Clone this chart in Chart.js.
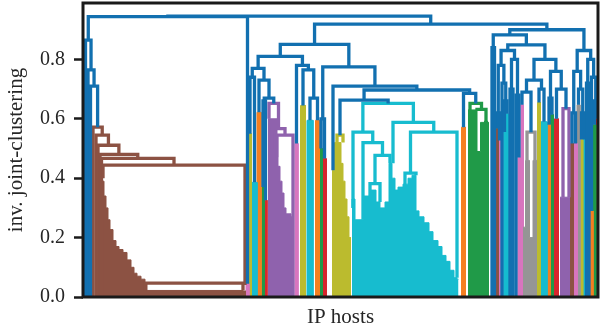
<!DOCTYPE html>
<html>
<head>
<meta charset="utf-8">
<script src="https://cdn.jsdelivr.net/npm/chart.js@4.4.1/dist/chart.umd.min.js"></script>
<style>
  html, body { margin: 0; padding: 0; background: #fff; }
</style>
</head>
<body>
<canvas id="dendrogram" width="600" height="330"></canvas>
<script>
// cluster colours
const palette = {
  B: '#1270b0', Br: '#8c5243', P: '#8f62ad', C: '#17bccf', O: '#bbbb2e',
  Or: '#f57f20', G: '#209a48', R: '#d8262d', Pk: '#d876bf', Gy: '#959595'
};

const yTicks = [0, 0.2, 0.4, 0.6, 0.8];

// leaves / collapsed clusters: name, position on host axis, height where the stem starts, colour, cluster span
const leaves = [
  ['a0', 2.5, 0, 'B', 0], ['a1', 5, 0, 'B', 0], ['a2', 7.5, 0, 'B', 0],
  ['w0', 10, 0, 'Br', 0], ['w1', 13, 0, 'Br', 0], ['w2', 15, 0, 'Br', 0],
  ['w3', 17, 0, 'Br', 0], ['w4', 18.5, 0, 'Br', 0], ['w5', 20, 0.4, 'Br', 0],
  ['w6', 162, 0.04, 'Br', 0], ['t0', 62, 0.022, 'Br', 0], ['t1', 160, 0.022, 'Br', 0],
  ['pk0', 164.5, 0.045, 'Pk', 3],
  ['o1', 167, 0.55, 'O', 3], ['c1', 171.5, 0.386, 'C', 5], ['or1', 176, 0.622, 'Or', 4],
  ['g1', 180, 0.37, 'G', 2.5], ['r1', 182.5, 0.326, 'R', 3],
  ['p0', 186, 0.6, 'P', 0], ['p1', 189, 0.5, 'P', 0], ['p2', 194, 0.47, 'P', 0], ['p3', 210, 0, 'P', 0],
  ['pk1', 213.5, 0.517, 'Pk', 3], ['o2', 220, 0.645, 'O', 5], ['c2', 227, 0.595, 'C', 6],
  ['or2', 234.5, 0.595, 'Or', 4], ['g2', 238, 0.5, 'G', 3], ['r2', 241.5, 0.466, 'R', 3.5],
  ['o3a', 250, 0.427, 'O', 0], ['o3b', 254, 0.52, 'O', 0], ['o3c', 260, 0.52, 'O', 0],
  ['cl0', 270, 0.3, 'C', 0], ['cl1', 280, 0.26, 'C', 0], ['cl2a', 287, 0.33, 'C', 0],
  ['cl2b', 297, 0.32, 'C', 0], ['cl4', 307, 0.45, 'C', 0], ['cr0', 310, 0.45, 'C', 0],
  ['cr1', 322, 0.37, 'C', 0], ['cr2', 333, 0.41, 'C', 0], ['cr3', 374, 0.065, 'C', 0],
  ['or3', 380.5, 0.572, 'Or', 4],
  ['g3a', 387, 0.63, 'G', 0], ['g3b', 394, 0.63, 'G', 0], ['g3c', 401, 0.588, 'G', 0], ['g3d', 405, 0.588, 'G', 0],
  ['ra', 409, 0, 'B', 0], ['ra2', 411.5, 0, 'B', 0], ['rb', 414, 0.567, 'Br', 2.5],
  ['rc', 416.5, 0.527, 'Pk', 2.5], ['rd', 419, 0, 'B', 0], ['re', 421.5, 0.556, 'C', 2.5],
  ['rf', 424, 0.617, 'C', 2.5], ['rg', 427, 0, 'B', 0], ['rg2', 430, 0, 'B', 0],
  ['rh', 433, 0, 'B', 0], ['ri', 436, 0.47, 'Pk', 2.5], ['rj', 439, 0.647, 'Pk', 2.5],
  ['k0', 444, 0.46, 'Gy', 0], ['k1', 452, 0.46, 'Gy', 0],
  ['rl', 456, 0.655, 'O', 3], ['rm', 461, 0.59, 'C', 6], ['rn', 466, 0.58, 'Or', 3],
  ['ro', 469, 0.614, 'G', 3], ['rp', 473.5, 0.6, 'R', 4],
  ['q0', 480, 0.336, 'P', 0], ['q1', 486, 0.336, 'P', 0],
  ['rr', 489, 0.517, 'Br', 3], ['rs', 492.5, 0.517, 'Pk', 3.5], ['rt', 495.5, 0.647, 'Gy', 3],
  ['ru', 498.5, 0.53, 'O', 2.5], ['rv', 501, 0.53, 'C', 2.5], ['rw', 503.5, 0, 'B', 0],
  ['rw2', 506, 0, 'B', 0], ['rx', 508.5, 0.29, 'Or', 3], ['ry', 511.5, 0.58, 'G', 3],
  ['rz', 514, 0.6, 'R', 2.5]
];

// merges, bottom-up: name, left child, right child, inv. joint-clustering, colour
const merges = [
  ['W6', 'w5', 'w6', 0.444, 'Br'], ['W5', 'w4', 'W6', 0.467, 'Br'], ['W4', 'w3', 'W5', 0.48, 'Br'],
  ['W3', 'w2', 'W4', 0.511, 'Br'], ['W2', 'w1', 'W3', 0.545, 'Br'], ['W1', 'w0', 'W2', 0.572, 'Br'],
  ['T0', 't0', 't1', 0.047, 'Br'],
  ['A3', 'a2', 'W1', 0.71, 'B'], ['A2', 'a1', 'A3', 0.765, 'B'], ['A1', 'a0', 'A2', 0.865, 'B'],
  ['A0', 'A1', 'pk0', 0.944, 'B'],
  ['K1', 'o1', 'c1', 0.74, 'B'], ['K3', 'g1', 'r1', 0.66, 'B'],
  ['Pa', 'p2', 'p3', 0.545, 'P'], ['Pb', 'p1', 'Pa', 0.567, 'P'], ['Pc', 'p0', 'Pb', 0.652, 'P'],
  ['K4', 'K3', 'Pc', 0.67, 'B'], ['K5', 'or1', 'K4', 0.73, 'B'], ['K2', 'K1', 'K5', 0.77, 'B'],
  ['M1', 'c2', 'or2', 0.67, 'B'], ['M2', 'o2', 'M1', 0.765, 'B'], ['M3', 'pk1', 'M2', 0.78, 'B'],
  ['S1', 'K2', 'M3', 0.81, 'B'], ['M4', 'g2', 'r2', 0.6, 'B'],
  ['O3', 'o3b', 'o3c', 0.545, 'O'],
  ['Cd', 'cl2a', 'cl2b', 0.382, 'C'], ['Cc', 'Cd', 'cl4', 0.477, 'C'], ['Cb', 'cl1', 'Cc', 0.52, 'C'],
  ['Ca', 'cl0', 'Cb', 0.555, 'C'], ['Cg', 'cr1', 'cr2', 0.417, 'C'], ['Cf', 'Cg', 'cr3', 0.555, 'C'],
  ['Ce', 'cr0', 'Cf', 0.588, 'C'], ['Ct', 'Ca', 'Ce', 0.652, 'C'],
  ['Ga', 'g3c', 'g3d', 0.588, 'G'], ['Gb', 'g3b', 'Ga', 0.632, 'G'], ['Gc', 'g3a', 'Gb', 0.652, 'G'],
  ['T1', 'O3', 'Ct', 0.663, 'B'], ['T3', 'or3', 'Gc', 0.686, 'B'], ['T2', 'T1', 'T3', 0.697, 'B'],
  ['T4', 'o3a', 'T2', 0.71, 'B'], ['T5', 'M4', 'T4', 0.775, 'B'], ['S2', 'S1', 'T5', 0.851, 'B'],
  ['Ra', 'ra', 'ra2', 0.84, 'B'], ['Rb', 'rb', 'rc', 0.62, 'B'], ['Rc', 're', 'rf', 0.66, 'B'],
  ['Rd', 'rd', 'Rc', 0.72, 'B'], ['Re', 'Rb', 'Rd', 0.78, 'B'], ['Rf', 'rg', 'rg2', 0.70, 'B'],
  ['Rg', 'rh', 'ri', 0.68, 'B'], ['Rh', 'Rf', 'Rg', 0.80, 'B'], ['Ri', 'Re', 'Rh', 0.83, 'B'],
  ['Ka', 'k0', 'k1', 0.555, 'Gy'], ['Rj', 'rj', 'Ka', 0.69, 'B'], ['Rk', 'rl', 'rm', 0.70, 'B'],
  ['Rl', 'Rj', 'Rk', 0.73, 'B'], ['Qa', 'q0', 'q1', 0.634, 'P'], ['Rm', 'rn', 'ro', 0.67, 'B'],
  ['Rn', 'rp', 'Qa', 0.70, 'B'], ['Ro', 'Rm', 'Rn', 0.76, 'B'], ['Rp', 'Rl', 'Ro', 0.80, 'B'],
  ['Rq', 'rr', 'rs', 0.62, 'B'], ['Rr', 'ru', 'rv', 0.62, 'B'], ['Rs', 'rt', 'Rr', 0.70, 'B'],
  ['Rt', 'Rq', 'Rs', 0.76, 'B'], ['Ru', 'rw', 'rw2', 0.72, 'B'], ['Rv', 'ry', 'rz', 0.66, 'B'],
  ['Rw', 'rx', 'Rv', 0.74, 'B'], ['Rx', 'Ru', 'Rw', 0.80, 'B'], ['Ry', 'Rt', 'Rx', 0.83, 'B'],
  ['Rz', 'Ri', 'Rp', 0.849, 'B'], ['RA', 'Ra', 'Rz', 0.883, 'B'], ['RB', 'RA', 'Ry', 0.90, 'B'],
  ['S3', 'S2', 'RB', 0.919, 'B'], ['S4', 'A0', 'S3', 0.946, 'B']
];

// dense low-level parts of the big clusters (outline: host positions, heights)
const masses = [
  ['Br', [19, 21, 23, 25, 27, 30, 33, 36, 40, 44, 48, 51, 54, 58, 62, 64, 66, 160, 163],
         [0.44, 0.39, 0.34, 0.3, 0.26, 0.227, 0.19, 0.17, 0.16, 0.15, 0.125, 0.1, 0.08, 0.07, 0.06, 0.047, 0.022, 0.022, 0.02]],
  ['P', [185, 194, 195, 197, 199, 201, 203, 205, 208, 210],
        [0.6, 0.6, 0.47, 0.44, 0.39, 0.35, 0.3, 0.28, 0.28, 0.27]],
  ['O', [249, 251.5, 252, 258, 260, 262, 264, 266, 268],
        [0.427, 0.427, 0.52, 0.52, 0.45, 0.39, 0.33, 0.27, 0.2]],
  ['C', [269, 272, 277, 281, 287, 293, 297, 302, 306, 309, 312, 315, 320, 325, 329, 333, 336, 341, 346, 350, 355, 359, 363, 367, 371, 374, 375.5],
        [0.3, 0.33, 0.26, 0.26, 0.34, 0.36, 0.32, 0.3, 0.32, 0.45, 0.4, 0.36, 0.37, 0.38, 0.4, 0.41, 0.29, 0.27, 0.25, 0.22, 0.19, 0.17, 0.14, 0.12, 0.09, 0.065, 0.06]],
  ['G', [385, 394, 395, 397.5, 398, 406], [0.63, 0.63, 0.49, 0.49, 0.588, 0.588]],
  ['Gy', [440, 442.5, 443, 446.5, 447, 450, 450.5, 454], [0.235, 0.235, 0.46, 0.46, 0.2, 0.2, 0.46, 0.46]],
  ['P', [477, 487], [0.336, 0.336]]
];

// positions of every node (merge sits over the middle of its two children)
const nodes = {};
leaves.forEach(([name, x, top]) => { nodes[name] = { x: x, h: top }; });
merges.forEach(([name, a, b, h]) => { nodes[name] = { x: (nodes[a].x + nodes[b].x) / 2, h: h }; });

const datasets = [];
masses.forEach(([c, xs, hs]) => {
  datasets.push({
    data: xs.map((x, i) => ({ x: x, y: hs[i] })),
    stepped: 'after',
    fill: 'origin', backgroundColor: palette[c], borderColor: palette[c], borderWidth: 1, order: 3
  });
});
leaves.filter(l => l[4] > 0).forEach(([name, x, top, c, span]) => {
  datasets.push({
    data: [{ x: x - span / 2, y: 0 }, { x: x - span / 2, y: top }, { x: x + span / 2, y: top }, { x: x + span / 2, y: 0 }],
    fill: 'origin', backgroundColor: palette[c], borderColor: palette[c], borderWidth: 1, order: 3
  });
});
merges.forEach(([name, a, b, h, c]) => {
  const l = nodes[a], r = nodes[b];
  datasets.push({
    data: [{ x: l.x, y: l.h }, { x: l.x, y: h }, { x: r.x, y: h }, { x: r.x, y: r.h }],
    fill: false, borderColor: palette[c], borderWidth: 3.3, order: c === 'B' ? 1 : 2
  });
});

const frame = {
  id: 'frame',
  afterDatasetsDraw(chart) {
    const { ctx, chartArea: a } = chart;
    ctx.save();
    ctx.strokeStyle = '#1a1a1a';
    ctx.lineWidth = 3;
    ctx.strokeRect(a.left, a.top, a.right - a.left, a.bottom - a.top);
    ctx.restore();
  }
};

const serif = 'Liberation Serif';

new Chart('dendrogram', {
  type: 'line',
  data: { datasets: datasets },
  options: {
    responsive: false,
    animation: false,
    devicePixelRatio: 1,
    layout: { padding: { top: 3, right: 2, left: 0, bottom: 0 } },
    elements: {
      point: { radius: 0, hoverRadius: 0 },
      line: { tension: 0, borderJoinStyle: 'miter', borderCapStyle: 'butt' }
    },
    plugins: { legend: { display: false }, tooltip: { enabled: false } },
    scales: {
      x: {
        type: 'linear', min: 0, max: 515,
        ticks: { display: false },
        grid: { display: false },
        border: { display: false },
        title: { display: true, text: 'IP hosts', color: '#262626', font: { family: serif, size: 21 }, padding: { top: 0, bottom: 0 } },
        afterFit: s => { s.height = 33; s.paddingLeft = 0; s.paddingRight = 0; }
      },
      y: {
        min: 0, max: 0.99,
        afterBuildTicks: s => { s.ticks = yTicks.map(v => ({ value: v })); },
        ticks: { callback: v => v.toFixed(1), color: '#262626', font: { family: serif, size: 20 }, padding: 9 },
        grid: { drawOnChartArea: false, drawTicks: true, tickLength: 9, tickWidth: 2.5, tickColor: '#1a1a1a' },
        border: { display: false },
        title: { display: true, text: 'inv. joint-clustering', color: '#262626', font: { family: serif, size: 21 }, padding: { top: 4, bottom: 0 } },
        afterFit: s => { s.width = 83; s.paddingTop = 0; s.paddingBottom = 0; }
      }
    }
  },
  plugins: [frame]
});
</script>
</body>
</html>
